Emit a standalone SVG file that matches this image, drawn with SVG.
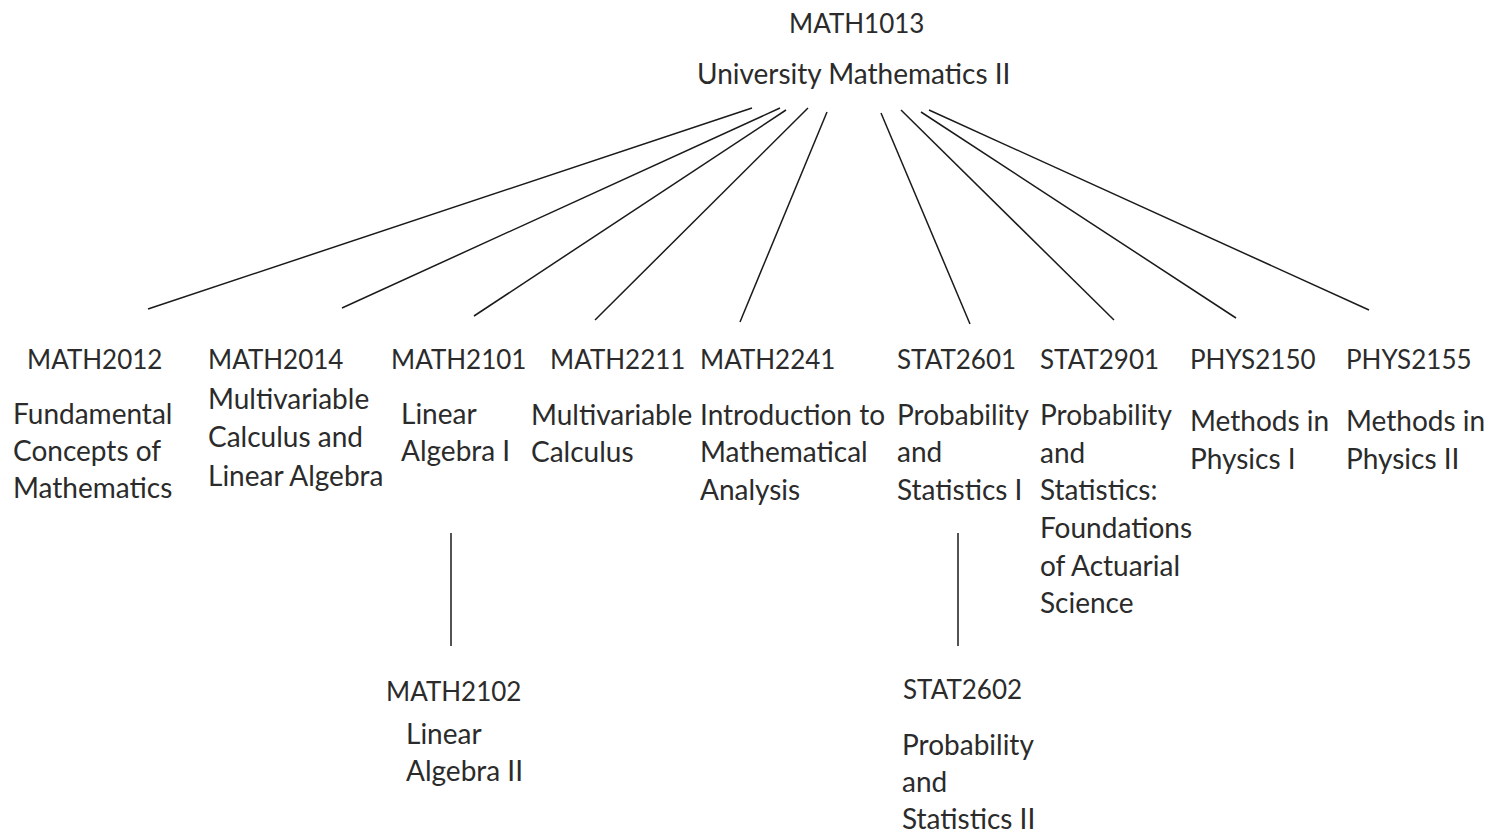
<svg xmlns="http://www.w3.org/2000/svg" width="1486" height="834" viewBox="0 0 1486 834">
<style>
text{font-family:Lato,"Liberation Sans",sans-serif;font-size:28px;fill:#2b2b2b}
text.h{font-size:26px}
.c line{stroke:#1a1a1a;stroke-width:1.5}
</style>
<rect width="1486" height="834" fill="#fff"/>
<g class="c" id="connectors">
<line x1="752" y1="108" x2="148" y2="309"/>
<line x1="780" y1="108" x2="342" y2="308"/>
<line x1="786" y1="110" x2="474" y2="316"/>
<line x1="808" y1="108" x2="595" y2="320"/>
<line x1="827" y1="112" x2="740" y2="322"/>
<line x1="881" y1="113" x2="970" y2="324"/>
<line x1="901" y1="110" x2="1114" y2="320"/>
<line x1="921" y1="112" x2="1236" y2="318"/>
<line x1="929" y1="110" x2="1369" y2="310"/>
<line x1="451" y1="533" x2="451" y2="646"/>
<line x1="958" y1="533" x2="958" y2="646"/>
</g>
<g id="MATH1013"><text class="h" x="789" y="33">MATH1013</text><text x="697" y="84">University Mathematics II</text></g>
<g id="MATH2012"><text class="h" x="27" y="369">MATH2012</text><text x="13" y="424">Fundamental</text><text x="13" y="461">Concepts of</text><text x="13" y="498">Mathematics</text></g>
<g id="MATH2014"><text class="h" x="208" y="369">MATH2014</text><text x="208" y="409">Multivariable</text><text x="208" y="447">Calculus and</text><text x="208" y="486">Linear Algebra</text></g>
<g id="MATH2101"><text class="h" x="391" y="369">MATH2101</text><text x="401" y="424">Linear</text><text x="401" y="461">Algebra I</text></g>
<g id="MATH2211"><text class="h" x="550" y="369">MATH2211</text><text x="531" y="425">Multivariable</text><text x="531" y="462">Calculus</text></g>
<g id="MATH2241"><text class="h" x="700" y="369">MATH2241</text><text x="700" y="425">Introduction to</text><text x="700" y="462">Mathematical</text><text x="700" y="500">Analysis</text></g>
<g id="STAT2601"><text class="h" x="897" y="369">STAT2601</text><text x="897" y="425">Probability</text><text x="897" y="462">and</text><text x="897" y="500">Statistics I</text></g>
<g id="STAT2901"><text class="h" x="1040" y="369">STAT2901</text><text x="1040" y="425">Probability</text><text x="1040" y="463">and</text><text x="1040" y="500">Statistics:</text><text x="1040" y="538">Foundations</text><text x="1040" y="576">of Actuarial</text><text x="1040" y="613">Science</text></g>
<g id="PHYS2150"><text class="h" x="1190" y="369">PHYS2150</text><text x="1190" y="431">Methods in</text><text x="1190" y="469">Physics I</text></g>
<g id="PHYS2155"><text class="h" x="1346" y="369">PHYS2155</text><text x="1346" y="431">Methods in</text><text x="1346" y="469">Physics II</text></g>
<g id="MATH2102"><text class="h" x="386" y="701">MATH2102</text><text x="406" y="744">Linear</text><text x="406" y="781">Algebra II</text></g>
<g id="STAT2602"><text class="h" x="903" y="699">STAT2602</text><text x="902" y="755">Probability</text><text x="902" y="792">and</text><text x="902" y="829">Statistics II</text></g>
</svg>
